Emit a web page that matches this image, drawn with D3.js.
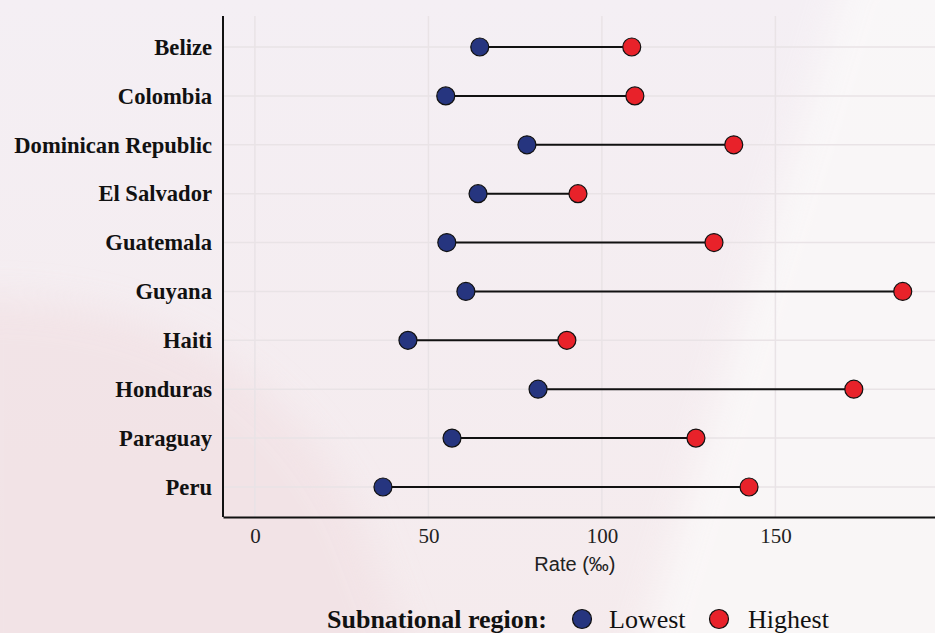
<!DOCTYPE html>
<html>
<head>
<meta charset="utf-8">
<script src="https://cdn.jsdelivr.net/npm/d3@7"></script>
<style>
  body { margin: 0; background: #f5eef0; }
  svg { display: block; }
</style>
</head>
<body>
<div id="chart"></div>
<script>
const countries = ["Belize", "Colombia", "Dominican Republic", "El Salvador", "Guatemala",
                   "Guyana", "Haiti", "Honduras", "Paraguay", "Peru"];
const lowest  = [64.8, 55.0, 78.4, 64.3, 55.3, 60.8, 44.1, 81.6, 56.8, 36.9];
const highest = [108.6, 109.5, 138.0, 93.1, 132.3, 186.7, 89.9, 172.6, 127.1, 142.4];
const xTicks = [0, 50, 100, 150];

const W = 935, H = 633;
const margin = {top: 16, right: 0, bottom: 116, left: 223};
const width = W - margin.left - margin.right,
      height = H - margin.top - margin.bottom;

const serif = "Liberation Serif, Times New Roman, serif";
const data = countries.map((c, i) => ({name: c, lo: lowest[i], hi: highest[i]}));

const svg = d3.select("#chart").append("svg")
    .attr("width", W)
    .attr("height", H);

// fond
const defs = svg.append("defs");
const grad = defs.append("linearGradient").attr("id", "bg")
    .attr("x1", "0").attr("y1", "0").attr("x2", "0").attr("y2", "1");
grad.append("stop").attr("offset", "0").attr("stop-color", "#f4eff4");
grad.append("stop").attr("offset", "1").attr("stop-color", "#f5ebed");
defs.append("filter").attr("id", "soft")
    .attr("x", "-20%").attr("y", "-20%").attr("width", "140%").attr("height", "140%")
    .append("feGaussianBlur").attr("stdDeviation", 18);
svg.append("rect").attr("width", W).attr("height", H).attr("fill", "url(#bg)");
svg.append("path")
    .attr("d", "M-40,300 Q250,290 360,520 L420,680 L-40,680 Z")
    .attr("fill", "#f2e2e5").attr("opacity", 0.8)
    .attr("filter", "url(#soft)");
svg.append("path")
    .attr("d", "M850,-40 L980,-40 L980,680 L630,680 Z")
    .attr("fill", "#fbf9f9").attr("opacity", 0.8)
    .attr("filter", "url(#soft)");

const g = svg.append("g")
    .attr("transform", "translate(" + margin.left + "," + margin.top + ")");

const x = d3.scaleLinear()
    .domain([-9.2, 196])
    .range([0, width]);

const y = d3.scalePoint()
    .domain(countries)
    .range([31, 471]);

// grille
g.selectAll(".vgrid").data(xTicks).enter().append("line")
    .attr("x1", d => x(d)).attr("x2", d => x(d))
    .attr("y1", 0).attr("y2", height)
    .attr("stroke", "#e9e3e6").attr("stroke-width", 1.5);
g.selectAll(".hgrid").data(countries).enter().append("line")
    .attr("x1", 0).attr("x2", width)
    .attr("y1", d => y(d)).attr("y2", d => y(d))
    .attr("stroke", "#e9e3e6").attr("stroke-width", 1.5);

// axe X
const xAxis = g.append("g")
    .attr("transform", "translate(0," + height + ")")
    .call(d3.axisBottom(x).tickValues(xTicks).tickSize(0).tickPadding(11));
xAxis.select(".domain").attr("stroke", "#111").attr("stroke-width", 2);
xAxis.selectAll("text")
    .attr("font-family", serif)
    .attr("font-size", 21).attr("fill", "#222");

// axe Y
const yAxis = g.append("g")
    .call(d3.axisLeft(y).tickSize(0).tickPadding(11));
yAxis.select(".domain").attr("stroke", "#111").attr("stroke-width", 2)
    .attr("d", "M0,0V" + height);
yAxis.selectAll("text")
    .attr("font-family", serif)
    .attr("font-weight", "bold")
    .attr("font-size", 22.6).attr("fill", "#111");

// titre axe
g.append("text")
    .attr("x", x(100) - 27)
    .attr("y", height + 54)
    .attr("text-anchor", "middle")
    .attr("font-family", "Liberation Sans, Arial, sans-serif")
    .attr("font-size", 20)
    .attr("fill", "#222")
    .text("Rate (‰)");

// segments
g.selectAll(".seg").data(data).enter().append("line")
    .attr("x1", d => x(d.lo)).attr("x2", d => x(d.hi))
    .attr("y1", d => y(d.name)).attr("y2", d => y(d.name))
    .attr("stroke", "#111").attr("stroke-width", 2);

// points
g.selectAll(".lo").data(data).enter().append("circle")
    .attr("cx", d => x(d.lo)).attr("cy", d => y(d.name))
    .attr("r", 9)
    .attr("fill", "#26357f").attr("stroke", "#111").attr("stroke-width", 1.2);
g.selectAll(".hi").data(data).enter().append("circle")
    .attr("cx", d => x(d.hi)).attr("cy", d => y(d.name))
    .attr("r", 9)
    .attr("fill", "#e8222a").attr("stroke", "#111").attr("stroke-width", 1.2);

// légende
const leg = svg.append("g").attr("transform", "translate(0,619)");
leg.append("text")
    .attr("x", 327).attr("y", 9)
    .attr("font-family", serif)
    .attr("font-weight", "bold").attr("font-size", 26).attr("fill", "#111")
    .text("Subnational region:");
leg.append("circle").attr("cx", 582).attr("cy", 0).attr("r", 9.5)
    .attr("fill", "#26357f").attr("stroke", "#111").attr("stroke-width", 1.2);
leg.append("text")
    .attr("x", 609).attr("y", 9)
    .attr("font-family", serif)
    .attr("font-size", 26).attr("fill", "#111")
    .text("Lowest");
leg.append("circle").attr("cx", 719).attr("cy", 0).attr("r", 9.5)
    .attr("fill", "#e8222a").attr("stroke", "#111").attr("stroke-width", 1.2);
leg.append("text")
    .attr("x", 748).attr("y", 9)
    .attr("font-family", serif)
    .attr("font-size", 26).attr("fill", "#111")
    .text("Highest");
</script>
</body>
</html>
